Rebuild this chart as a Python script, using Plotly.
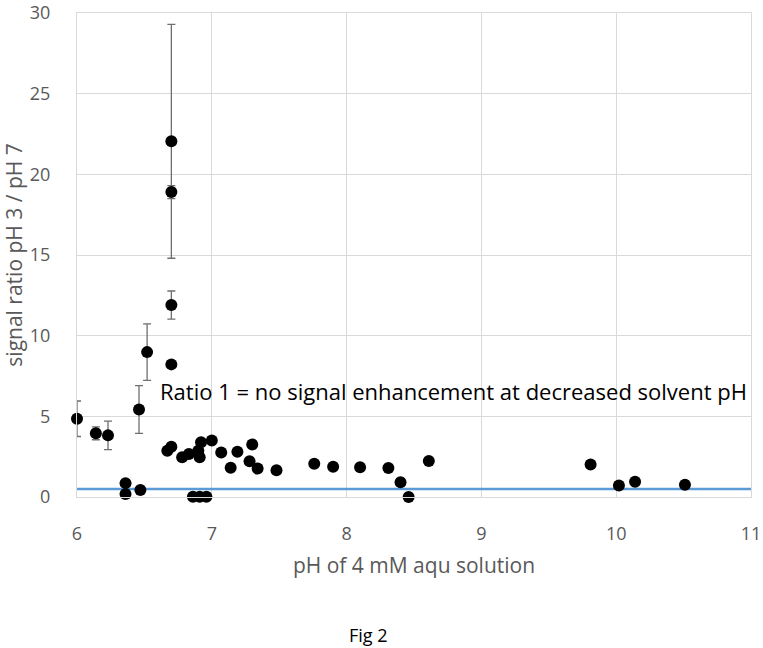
import plotly.graph_objects as go

# -------------------------------------------------
# Data
# -------------------------------------------------
ph = [
    6.00, 6.14, 6.23, 6.46, 6.52, 6.36, 6.36, 6.47, 6.67, 6.70,
    6.70, 6.70, 6.70, 6.70, 6.78, 6.83, 6.90, 6.91, 6.92, 7.00,
    7.07, 7.14, 7.19, 7.30, 7.28, 7.34, 7.48, 7.76, 7.90, 8.10,
    8.31, 8.40, 8.46, 8.61, 9.81, 10.02, 10.14, 10.51, 6.86, 6.91,
    6.96,
]
ratio = [
    4.85, 3.95, 3.82, 5.42, 8.98, 0.86, 0.18, 0.44, 2.86, 3.12,
    8.22, 11.90, 18.90, 22.05, 2.46, 2.66, 2.86, 2.46, 3.40, 3.50,
    2.76, 1.82, 2.80, 3.26, 2.21, 1.76, 1.66, 2.06, 1.88, 1.84,
    1.80, 0.92, 0.00, 2.23, 2.02, 0.71, 0.94, 0.76, 0.02, 0.02,
    0.02,
]
ratio_err = [
    1.10, 0.40, 0.88, 1.48, 1.75, 0, 0, 0, 0, 0.20,
    0, 0.87, 0.40, 7.25, 0, 0, 0, 0, 0, 0,
    0, 0, 0, 0, 0, 0, 0, 0, 0, 0,
    0, 0, 0, 0, 0, 0, 0, 0, 0, 0,
    0,
]

line_x = [6, 11]
line_y = [0.5, 0.5]

x_ticks = [6, 7, 8, 9, 10, 11]
y_ticks = [0, 5, 10, 15, 20, 25, 30]

note_text = "Ratio 1 = no signal enhancement at decreased solvent pH"

FONT = "'Open Sans', Lato, sans-serif"
TEXT_COLOR = "#595959"
GRID = "#d9d9d9"

# plot area in pixels
W, H = 763, 648
L, R, T, B = 77, 12, 13, 151

fig = go.Figure()

# -------------------------------------------------
# Reference line (ratio 1)
# -------------------------------------------------
fig.add_trace(
    go.Scatter(
        x=line_x,
        y=line_y,
        mode="lines",
        line=dict(color="#5b9bd5", width=2.5),
        showlegend=False,
        cliponaxis=False,
    )
)

# -------------------------------------------------
# Measured points with error bars
# -------------------------------------------------
fig.add_trace(
    go.Scatter(
        x=ph,
        y=ratio,
        mode="markers",
        marker=dict(color="black", size=12),
        error_y=dict(
            type="data",
            array=ratio_err,
            visible=True,
            color="#6f6f6f",
            thickness=1.3,
            width=4,
        ),
        showlegend=False,
        cliponaxis=False,
    )
)

fig.add_annotation(
    x=6.6,
    y=6.56,
    xref="x",
    yref="y",
    text=note_text,
    showarrow=False,
    xanchor="left",
    yanchor="middle",
    font=dict(family=FONT, size=22, color="black"),
)

# caption under the chart
fig.add_annotation(
    x=(368 - L) / (W - L - R),
    y=-(635 - (H - B)) / (H - T - B),
    xref="paper",
    yref="paper",
    text="Fig 2",
    showarrow=False,
    xanchor="center",
    yanchor="middle",
    font=dict(family=FONT, size=18, color="black"),
)

# -------------------------------------------------
# Layout
# -------------------------------------------------
fig.update_xaxes(
    range=[6, 11],
    tickvals=x_ticks,
    ticks="",
    showgrid=True,
    gridcolor=GRID,
    showline=True,
    linecolor=GRID,
    mirror=True,
    zeroline=False,
    automargin=False,
    ticklabeloverflow="allow",
    ticklabelstandoff=20,
    tickfont=dict(family=FONT, size=18, color=TEXT_COLOR),
    title=dict(
        text="pH of 4 mM aqu solution",
        font=dict(family=FONT, size=21, color=TEXT_COLOR),
        standoff=14,
    ),
)

fig.update_yaxes(
    range=[0, 30],
    tickvals=y_ticks,
    ticks="",
    showgrid=True,
    gridcolor=GRID,
    showline=True,
    linecolor=GRID,
    mirror=True,
    zeroline=False,
    automargin=False,
    ticklabeloverflow="allow",
    ticklabelstandoff=22,
    tickfont=dict(family=FONT, size=18, color=TEXT_COLOR),
    title=dict(
        text="signal ratio pH 3 / pH 7",
        font=dict(family=FONT, size=21, color=TEXT_COLOR),
        standoff=6,
    ),
)

fig.update_layout(
    width=W,
    height=H,
    plot_bgcolor="white",
    paper_bgcolor="white",
    margin=dict(l=L, r=R, t=T, b=B),
    showlegend=False,
)

# drop the default 8px page margin so the chart fills the window exactly
fig.write_html(
    "out.html",
    config={"displayModeBar": False},
    post_script="document.body.style.margin='0';",
)
